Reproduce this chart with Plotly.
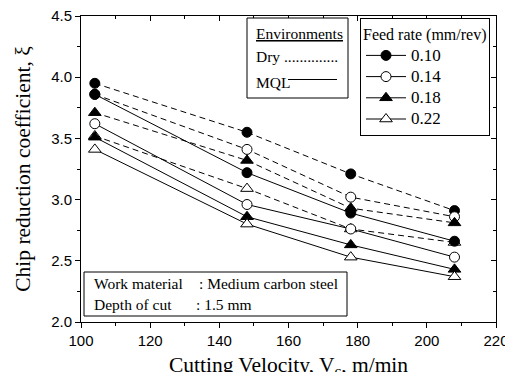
import plotly.graph_objects as go

# ---- data ----
velocity = [104, 148, 178, 208]
feed_rates = ["0.10", "0.14", "0.18", "0.22"]
dry_010 = [3.95, 3.55, 3.21, 2.91]
dry_014 = [3.86, 3.41, 3.02, 2.86]
dry_018 = [3.71, 3.32, 2.93, 2.81]
dry_022 = [3.52, 3.09, 2.76, 2.65]
mql_010 = [3.86, 3.22, 2.89, 2.66]
mql_014 = [3.62, 2.96, 2.76, 2.53]
mql_018 = [3.51, 2.86, 2.63, 2.43]
mql_022 = [3.41, 2.80, 2.53, 2.37]
x_ticks = [100, 120, 140, 160, 180, 200, 220]
y_ticks = [2.0, 2.5, 3.0, 3.5, 4.0, 4.5]

dry = [dry_010, dry_014, dry_018, dry_022]
mql = [mql_010, mql_014, mql_018, mql_022]
symbols = ["circle", "circle-open", "triangle-up", "triangle-up-open"]

SERIF = "Liberation Serif, Times New Roman, serif"
SANS = "Liberation Sans, Arial, sans-serif"

# page offset (browser body margin) and plot area on screen
OFF = 8
W, H = 513, 372
SL, ST, SR, SB = 81, 16, 496, 322          # screen plot-area edges
PW, PH = SR - SL, SB - ST
L, T = SL - OFF, ST - OFF
R, B = W - (L + PW), H - (T + PH)

def px(xp):
    return (xp - SL) / PW

def py(yp):
    return (SB - yp) / PH

def marker(sym):
    open_ = sym.endswith("open")
    return dict(symbol=sym.replace("-open", ""), size=10 if "circle" in sym else 11,
                color="white" if open_ else "black",
                line=dict(color="black", width=1))

fig = go.Figure()
for vals, sym in zip(dry, symbols):
    fig.add_trace(go.Scatter(x=velocity, y=vals, mode="lines+markers",
                             line=dict(color="black", width=1, dash="6px,4px"),
                             marker=marker(sym), showlegend=False))
for vals, sym in zip(mql, symbols):
    fig.add_trace(go.Scatter(x=velocity, y=vals, mode="lines+markers",
                             line=dict(color="black", width=1),
                             marker=marker(sym), showlegend=False))
for fr, sym in zip(feed_rates, symbols):
    fig.add_trace(go.Scatter(x=[None], y=[None], mode="lines+markers",
                             name=f'<span style="font-size:17px">{fr}</span>',
                             line=dict(color="black", width=1),
                             marker=marker(sym), showlegend=True))

axis_common = dict(showline=True, linecolor="black", linewidth=1, showgrid=False,
                   zeroline=False, ticks="outside", ticklen=5, tickwidth=1, tickcolor="black",
                   automargin=False, ticklabeloverflow="allow")

fig.update_layout(
    width=W, height=H, margin=dict(l=L, r=R, t=T, b=B, pad=0, autoexpand=False),
    paper_bgcolor="white", plot_bgcolor="white",
    xaxis=dict(range=[100, 220], tickvals=x_ticks, ticktext=[str(v) for v in x_ticks],
               tickfont=dict(family=SANS, size=15, color="black"),
               minor=dict(dtick=10, ticks="outside", ticklen=3, tickcolor="black"),
               title=dict(text="Cutting Velocity, V<sub>c</sub>, m/min",
                          font=dict(family=SERIF, size=21.5, color="black"), standoff=8),
               **axis_common),
    yaxis=dict(range=[2.0, 4.5], tickvals=y_ticks, ticktext=[f"{v:.1f}" for v in y_ticks],
               tickfont=dict(family=SANS, size=15, color="black"),
               minor=dict(dtick=0.25, ticks="outside", ticklen=3, tickcolor="black"),
               title=dict(text="Chip reduction coefficient, ξ",
                          font=dict(family=SERIF, size=21.5, color="black"), standoff=14),
               **axis_common),
    xaxis2=dict(range=[100, 220], overlaying="x", side="top", anchor="y", automargin=False,
                tickvals=x_ticks, showticklabels=False, showline=True, linecolor="black",
                linewidth=1,
                ticks="inside", ticklen=5, tickcolor="black", showgrid=False, zeroline=False,
                minor=dict(dtick=10, ticks="inside", ticklen=3, tickcolor="black")),
    yaxis2=dict(range=[2.0, 4.5], overlaying="y", side="right", anchor="x", automargin=False,
                tickvals=y_ticks, showticklabels=False, showline=True, linecolor="black",
                linewidth=1,
                ticks="inside", ticklen=5, tickcolor="black", showgrid=False, zeroline=False,
                minor=dict(dtick=0.25, ticks="inside", ticklen=3, tickcolor="black")),
    legend=dict(x=px(490), y=py(18), xanchor="right", yanchor="top",
                bordercolor="black", borderwidth=1, bgcolor="white",
                font=dict(family=SERIF, size=14, color="black"),
                title=dict(text="Feed rate (mm/rev)", side="top",
                           font=dict(family=SERIF, size=16, color="black")),
                tracegroupgap=0, itemwidth=40),
    showlegend=True,
)

# dummy trace to activate the mirrored axes
fig.add_trace(go.Scatter(x=[None], y=[None], xaxis="x2", yaxis="y2", showlegend=False))

# Environments box
fig.add_shape(type="rect", xref="paper", yref="paper", x0=px(247), x1=px(348),
              y0=py(98), y1=py(18), line=dict(color="black", width=1), fillcolor="white",
              layer="above")
fig.add_annotation(xref="paper", yref="paper", x=px(254), y=py(33), xanchor="left",
                   yanchor="middle", showarrow=False, text="<u>Environments</u>",
                   font=dict(family=SERIF, size=15.5, color="black"))
fig.add_annotation(xref="paper", yref="paper", x=px(254), y=py(57), xanchor="left",
                   yanchor="middle", showarrow=False, text="Dry ..............",
                   font=dict(family=SERIF, size=15.5, color="black"))
fig.add_annotation(xref="paper", yref="paper", x=px(254), y=py(82), xanchor="left",
                   yanchor="middle", showarrow=False, text="MQL",
                   font=dict(family=SERIF, size=15.5, color="black"))
fig.add_shape(type="line", xref="paper", yref="paper", x0=px(288), x1=px(337),
              y0=py(79.5), y1=py(79.5), line=dict(color="black", width=1))

# Work material box
fig.add_shape(type="rect", xref="paper", yref="paper", x0=px(84), x1=px(347),
              y0=py(316), y1=py(272), line=dict(color="black", width=1), fillcolor="white",
              layer="above")
for txt, xx, yy in [("Work material", 92, 283), (": Medium carbon steel", 197, 283),
                    ("Depth of cut", 92, 304), (": 1.5 mm", 194, 304)]:
    fig.add_annotation(xref="paper", yref="paper", x=px(xx), y=py(yy), xanchor="left",
                       yanchor="middle", showarrow=False, text=txt,
                       font=dict(family=SERIF, size=15.5, color="black"))

fig.write_html("out.html")
